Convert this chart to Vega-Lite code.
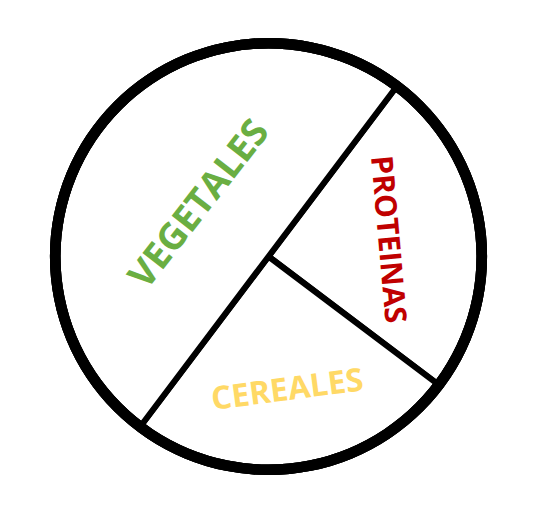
{
  "$schema": "https://vega.github.io/schema/vega-lite/v6.json",
  "width": 537,
  "height": 513,
  "padding": 0,
  "background": "white",
  "config": {"view": {"stroke": null}},
  "data": {
    "values": [
      {"grupo": "PROTEINAS", "porcion": 25, "orden": 1},
      {"grupo": "CEREALES", "porcion": 25, "orden": 2},
      {"grupo": "VEGETALES", "porcion": 50, "orden": 3}
    ]
  },
  "layer": [
    {
      "mark": {"type": "arc", "outerRadius": 212, "fill": "white", "stroke": "black", "strokeWidth": 6, "strokeJoin": "round"},
      "encoding": {
        "theta": {"field": "porcion", "type": "quantitative", "stack": true, "scale": {"range": [0.646, 6.929]}},
        "order": {"field": "orden", "type": "quantitative"}
      }
    },
    {
      "mark": {"type": "arc", "innerRadius": 208, "outerRadius": 218.5, "theta": 0, "theta2": 6.2832, "fill": "black"},
      "encoding": {}
    },
    {
      "mark": {"type": "text", "radius": 86, "angle": 308, "font": "Open Sans", "fontWeight": "bold", "fontSize": 37, "color": "#6AAE42"},
      "encoding": {
        "theta": {"field": "porcion", "type": "quantitative", "stack": true},
        "order": {"field": "orden", "type": "quantitative"},
        "text": {"condition": {"test": "datum.grupo === 'VEGETALES'", "field": "grupo"}, "value": ""}
      }
    },
    {
      "mark": {"type": "text", "radius": 128, "angle": 85, "dy": 8, "font": "Open Sans", "fontWeight": "bold", "fontSize": 30, "color": "#C00000"},
      "encoding": {
        "theta": {"field": "porcion", "type": "quantitative", "stack": true},
        "order": {"field": "orden", "type": "quantitative"},
        "text": {"condition": {"test": "datum.grupo === 'PROTEINAS'", "field": "grupo"}, "value": ""}
      }
    },
    {
      "mark": {"type": "text", "radius": 135, "angle": 352.5, "font": "Open Sans", "fontWeight": "bold", "fontSize": 32, "color": "#FFD966"},
      "encoding": {
        "theta": {"field": "porcion", "type": "quantitative", "stack": true},
        "order": {"field": "orden", "type": "quantitative"},
        "text": {"condition": {"test": "datum.grupo === 'CEREALES'", "field": "grupo"}, "value": ""}
      }
    }
  ]
}
